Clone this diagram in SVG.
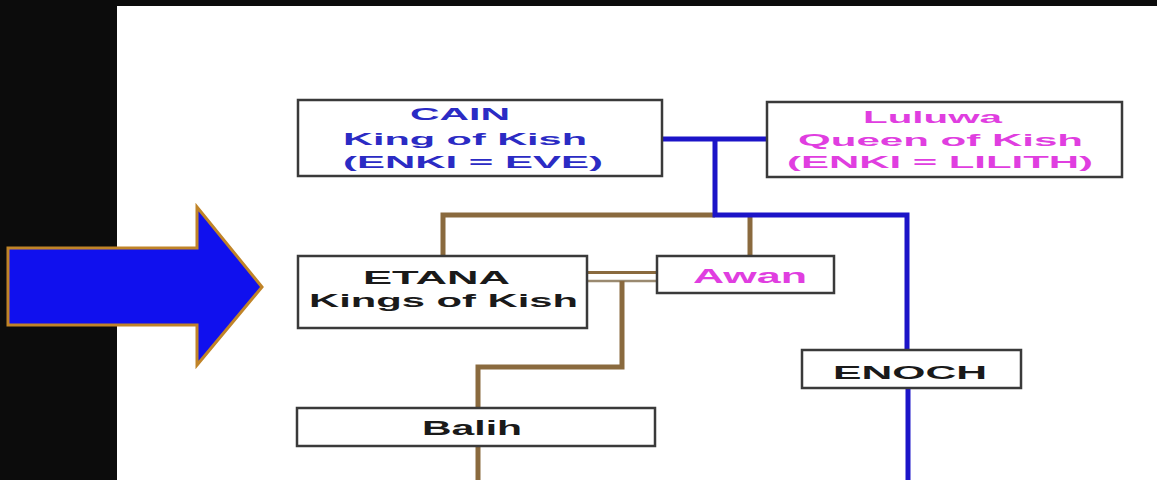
<svg xmlns="http://www.w3.org/2000/svg" width="1157" height="480" viewBox="0 0 1157 480">
  <style>
    .box { fill: #ffffff; stroke: #3a3a3a; stroke-width: 2.5; }
    .t { font-family: "Liberation Sans", Arial, sans-serif; font-weight: bold; }
    .blueT { fill: #2b2bc4; }
    .magT { fill: #e03ee0; }
    .blackT { fill: #1a1a1a; }
    .blue { fill: none; stroke: #1c14c8; stroke-width: 5; stroke-linejoin: miter; }
    .brown { fill: none; stroke: #8a6a3e; stroke-width: 5; }
  </style>
  <rect x="0" y="0" width="1157" height="480" fill="#0c0c0c"/>
  <rect x="117" y="6" width="1040" height="474" fill="#ffffff"/>

  <g id="connectors">
    <line class="blue" x1="663" y1="139" x2="767" y2="139" stroke-width="4"/>
    <polyline class="brown" points="443,256 443,215 715,215"/>
    <line class="brown" x1="750" y1="215" x2="750" y2="256"/>
    <polyline class="blue" points="715,139 715,215 907,215 907,350"/>
    <line class="blue" x1="908" y1="388" x2="908" y2="480"/>
    <line x1="587" y1="272.5" x2="657" y2="272.5" stroke="#8a6a3e" stroke-width="3"/>
    <line x1="587" y1="281" x2="657" y2="281" stroke="#9a8a70" stroke-width="2.5"/>
    <polyline class="brown" points="622,281 622,367 478,367 478,408"/>
    <line class="brown" x1="478" y1="446" x2="478" y2="480"/>
  </g>

  <g id="arrow">
    <polygon points="8,248 197,248 197,207 262,287 197,365 197,325 8,325" fill="#1010ee" stroke="#c08428" stroke-width="3" stroke-linejoin="miter"/>
  </g>

  <g id="cain">
    <rect class="box" x="298" y="100" width="364" height="76"/>
    <text class="t blueT" font-size="17" x="410" y="120" textLength="100" lengthAdjust="spacingAndGlyphs">CAIN</text>
    <text class="t blueT" font-size="17" x="343" y="145" textLength="244" lengthAdjust="spacingAndGlyphs">King of Kish</text>
    <text class="t blueT" font-size="17" x="343" y="168" textLength="260" lengthAdjust="spacingAndGlyphs">(ENKI = EVE)</text>
  </g>

  <g id="luluwa">
    <rect class="box" x="767" y="102" width="355" height="75"/>
    <text class="t magT" font-size="16" x="863" y="123" textLength="139" lengthAdjust="spacingAndGlyphs">Luluwa</text>
    <text class="t magT" font-size="16" x="798" y="146" textLength="285" lengthAdjust="spacingAndGlyphs">Queen of Kish</text>
    <text class="t magT" font-size="16" x="787" y="168" textLength="306" lengthAdjust="spacingAndGlyphs">(ENKI = LILITH)</text>
  </g>

  <g id="etana">
    <rect class="box" x="298" y="256" width="289" height="72"/>
    <text class="t blackT" font-size="18" x="363" y="284" textLength="147" lengthAdjust="spacingAndGlyphs">ETANA</text>
    <text class="t blackT" font-size="18" x="309" y="307" textLength="269" lengthAdjust="spacingAndGlyphs">Kings of Kish</text>
  </g>

  <g id="awan">
    <rect class="box" x="657" y="256" width="177" height="37"/>
    <text class="t magT" font-size="21" x="693" y="283" textLength="114" lengthAdjust="spacingAndGlyphs">Awan</text>
  </g>

  <g id="enoch">
    <rect class="box" x="802" y="350" width="219" height="38"/>
    <text class="t blackT" font-size="19" x="833" y="379" textLength="154" lengthAdjust="spacingAndGlyphs">ENOCH</text>
  </g>

  <g id="balih">
    <rect class="box" x="297" y="408" width="358" height="38"/>
    <text class="t blackT" font-size="20" x="422" y="435" textLength="100" lengthAdjust="spacingAndGlyphs">Balih</text>
  </g>
</svg>
